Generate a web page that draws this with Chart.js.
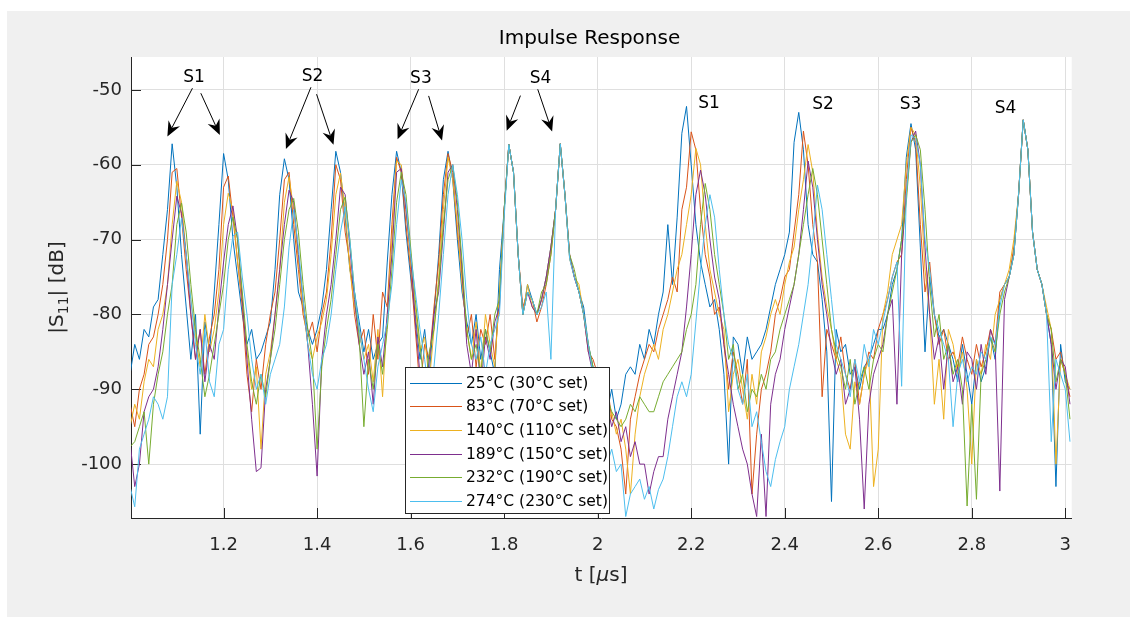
<!DOCTYPE html>
<html>
<head>
<meta charset="utf-8">
<script src="https://cdn.jsdelivr.net/npm/chart.js@4.4.1/dist/chart.umd.min.js"></script>
<style>
  html, body { margin: 0; padding: 0; background: #fff; }
  canvas { display: block; }
</style>
</head>
<body>
<canvas id="impulse" width="1137" height="617"></canvas>
<script>
// sample grid (us)
const tStart = 1.0;
const tStep = 0.01;

const seriesLabels = ["25°C (30°C set)", "83°C (70°C set)", "140°C (110°C set)",
  "189°C (150°C set)", "232°C (190°C set)", "274°C (230°C set)"];
const seriesColors = ["#0072BD", "#D95319", "#EDB120", "#7E2F8E", "#77AC30", "#4DBEEE"];

const xTicks = [1.2, 1.4, 1.6, 1.8, 2.0, 2.2, 2.4, 2.6, 2.8, 3.0];
const yTicks = [-100, -90, -80, -70, -60, -50];

// |S11| in dB, one value per 0.01 us from 1.00 to 3.01
const s25 = [
  -88, -84, -86, -82, -83, -79, -78, -72, -66, -57.2,
  -63, -72, -79, -86, -80, -96, -81, -85, -77, -68,
  -58.5, -62, -70, -75, -80, -84, -82, -86, -85, -83,
  -81, -74, -64, -59.2, -62, -70, -77, -79, -82, -84,
  -82, -79, -74, -66, -58.2, -61, -67, -74, -77, -81,
  -85, -82, -86, -84, -83, -73, -64, -58.2, -61, -69,
  -75, -80, -86, -82, -88, -80, -72, -62, -58.2, -62,
  -70, -77, -81, -84, -80, -86, -82, -85, -88, -74,
  -66, -57.3, -61, -72, -80, -76, -78, -80, -78, -75,
  -71, -66, -57.2, -64, -72.5, -75, -77, -79, -84, -87,
  -88, -90, -93, -90, -94, -92, -88, -87, -88, -84,
  -86, -82, -84, -80, -77, -68, -76, -67, -55.8, -52.2,
  -60, -68, -73, -76, -79, -78, -82, -88, -100, -83,
  -84, -88, -83, -86, -85, -84, -82, -79, -76, -74,
  -72, -69, -57, -53, -58, -68, -72, -73, -78, -85,
  -105, -82, -85, -84, -88, -87, -90, -87, -86, -84,
  -82, -82, -80, -76, -74, -70, -59, -54.5, -58, -71,
  -85, -75, -80, -83, -82, -84, -86, -89, -84, -88,
  -92, -86, -89, -87, -83, -86, -78, -76, -75, -72,
  -64, -54, -58, -69, -74, -76, -80, -84, -103, -84,
  -89, -90
];
const s83 = [
  -92, -95, -90, -88, -84, -83, -80, -76, -70, -61,
  -60.5, -67, -74, -80, -86, -82, -88, -83, -80, -74,
  -63, -61.5, -67, -73, -79, -88, -93, -86, -90, -84,
  -80, -77, -70, -62, -61, -68, -74, -80, -83, -81,
  -85, -80, -77, -70, -60, -62, -69, -73, -80, -84,
  -82, -88, -80, -86, -77, -79, -68, -59, -61, -68,
  -74, -82, -90, -84, -86, -79, -73, -64, -58.5, -61,
  -69, -75, -83, -80, -87, -82, -84, -80, -86, -78,
  -66, -57.3, -61, -72, -79, -77, -78, -81, -79, -76,
  -72, -66, -57.2, -64, -72, -75, -77, -80, -85, -86,
  -88, -91, -89, -94, -95, -98, -104, -94, -91, -88,
  -86, -84, -85, -82, -80, -78, -75, -77, -66, -63,
  -55.6, -58, -66, -72, -75, -80, -79, -84, -90, -85,
  -88, -92, -86, -104, -96, -90, -88, -85, -80, -78,
  -75, -74, -69, -64, -55.5, -60, -68, -73, -91, -82,
  -84, -86, -83, -88, -90, -86, -92, -88, -85, -86,
  -82, -80, -78, -75, -73, -72, -62, -55, -57, -68,
  -77, -73, -80, -84, -82, -86, -85, -87, -83, -86,
  -88, -84, -87, -85, -82, -84, -77, -76, -75, -71,
  -64, -54, -58, -69, -74, -76, -80, -82, -86, -85,
  -88, -91
];
const s140 = [
  -95, -92, -94, -89, -86, -87, -82, -80, -76, -68,
  -62.2, -65, -72, -78, -83, -87, -80, -85, -82, -77,
  -68, -63.8, -66, -73, -78, -85, -90, -87, -98, -88,
  -85, -80, -74, -65, -61.6, -66, -73, -79, -84, -86,
  -83, -81, -78, -72, -64, -61.1, -66, -74, -79, -82,
  -86, -84, -89, -82, -91, -80, -70, -59.5, -60, -66,
  -73, -79, -85, -83, -89, -82, -75, -66, -59, -62,
  -68, -76, -82, -86, -81, -88, -80, -84, -87, -77,
  -66, -57.3, -61, -72, -80, -76, -79, -80, -78, -75,
  -71, -66, -57.2, -64, -72.5, -75, -76, -80, -84, -88,
  -90, -92, -95, -93, -96, -94, -98, -104, -96, -91,
  -88, -86, -84, -86, -82, -80, -77, -74, -72, -68,
  -64, -57.8, -60, -68, -74, -77, -80, -82, -93, -88,
  -86, -90, -94, -88, -92, -85, -83, -80, -78, -80,
  -76, -73, -71, -66, -62, -57.3, -61, -69, -75, -79,
  -82, -86, -88, -96, -98, -89, -92, -88, -86, -103,
  -98, -80, -77, -72, -70, -68, -60, -55, -56, -63,
  -74, -80, -92, -86, -94, -82, -84, -88, -85, -90,
  -100, -86, -88, -84, -86, -80, -78, -76, -74, -70,
  -64, -54, -58, -69, -74, -76, -79, -82, -100, -86,
  -88, -90
];
const s189 = [
  -97, -103, -100, -93, -91, -90, -87, -82, -76, -70,
  -64.2, -66.5, -72, -80, -86, -82, -89, -84, -86, -79,
  -73, -68, -65.5, -70, -78, -86, -94, -101, -100.5, -90,
  -86, -80, -74, -68, -63.4, -65, -72, -78, -84, -92,
  -101.6, -86, -80, -76, -70, -63, -64, -71, -78, -84,
  -88, -85, -92, -83, -87, -80, -72, -61, -60.5, -66,
  -72, -81, -88, -94, -86, -80, -77, -69, -61, -60,
  -66, -74, -84, -88, -82, -90, -83, -86, -81, -79,
  -66, -57.3, -61, -72, -80, -77, -79, -80, -78, -75,
  -71, -66, -57.2, -64, -72, -75, -77, -80, -85, -88,
  -90, -93, -92, -95, -93, -97, -95, -99, -97, -100,
  -100, -104, -101, -99, -99, -94, -91, -88, -85, -79,
  -72, -64, -60.7, -64, -70, -75, -78, -84, -88, -92,
  -95, -98, -100, -104, -107, -96, -107, -92, -88, -86,
  -82, -79, -76, -72, -66, -59.5, -63, -70, -76, -80,
  -85, -88, -86, -92, -90, -87, -94, -106, -92, -88,
  -86, -84, -80, -78, -92, -72, -64, -57, -55.5, -60,
  -71, -80, -86, -83, -90, -84, -89, -87, -92, -85,
  -86, -90, -84, -88, -82, -84, -103.6, -78, -75, -72,
  -64, -54, -58, -69, -74, -76, -80, -84, -90, -86,
  -87, -92
];
const s232 = [
  -97.7, -97, -95, -93, -100, -92, -88, -85, -80, -76,
  -68, -65.1, -69, -76, -82, -86, -91, -88, -84, -80,
  -76, -70, -67, -70, -77, -84, -89, -92, -88, -91,
  -86, -82, -76, -70, -66, -64.5, -69, -76, -82, -86,
  -98, -87, -82, -78, -72, -66, -64.3, -70, -77, -83,
  -95, -86, -90, -84, -88, -82, -74, -65, -61, -64,
  -71, -78, -84, -90, -85, -82, -76, -68, -62, -60,
  -65, -73, -82, -86, -84, -88, -82, -85, -80, -78,
  -66, -57.3, -61, -72, -80, -77, -78, -80, -77, -76,
  -72, -66, -57.2, -64, -72, -74, -77, -80, -84, -87,
  -89, -92, -91, -93, -94, -95, -94, -92, -93, -91,
  -92, -93, -93, -91, -89, -88, -87, -86, -85, -82,
  -80, -76, -68, -62.5, -66, -72, -76, -80, -86, -84,
  -90, -88, -93, -90, -91, -88, -90, -86, -85, -82,
  -80, -78, -76, -72, -68, -64, -60.5, -64, -70, -76,
  -82, -85, -87, -90, -86, -92, -89, -87, -90, -86,
  -84, -85, -80, -77, -74, -70, -65, -57, -56, -58,
  -66, -76, -83, -80, -86, -84, -88, -86, -90, -105.6,
  -92, -104.7, -88, -86, -83, -85, -80, -77, -75, -72,
  -64, -54, -58, -69, -74, -76, -80, -82, -89, -86,
  -88, -94
];
const s274 = [
  -103, -105.7, -98, -96, -94, -91, -92, -94, -91, -76,
  -72, -67.1, -72, -78, -84, -88, -82, -89, -91, -84,
  -82, -74, -69.5, -69, -75, -80, -86, -90, -88, -92,
  -88, -86, -84, -79, -71, -66, -71, -78, -84, -88,
  -90, -86, -84, -80, -74, -69, -65.6, -70, -77, -82,
  -86, -90, -93, -87, -84, -81, -76, -68, -62, -65,
  -72, -77, -82, -86, -91, -87, -80, -72, -64, -60,
  -64, -70, -78, -84, -86, -83, -88, -84, -82, -80,
  -67, -57.3, -61, -72, -80, -77, -78, -80, -79, -77,
  -86, -66, -57.2, -64, -72.5, -75, -77, -80, -84, -88,
  -92, -96, -100, -98, -101, -100, -107, -104, -103, -102,
  -104.7, -103, -106, -103.4, -102, -99, -95, -91, -89, -91,
  -88, -81, -74, -68, -64, -67, -74, -80, -84, -86,
  -90, -92, -88, -95, -93, -97, -101, -103, -99.4, -97,
  -95, -90, -87, -84, -80, -76, -70, -62.7, -66, -72,
  -78, -84, -86, -88, -91, -86, -89, -84, -87, -82,
  -84, -81, -78, -75, -73, -89.6, -64, -56, -56.5, -60,
  -70, -74, -80, -82, -84, -86, -95, -88, -86, -89,
  -87, -88, -85, -86, -83, -84, -79, -76, -75, -72,
  -64, -54, -58, -69, -74, -76, -80, -97, -86, -88,
  -90, -97
];
const allSeries = [s25, s83, s140, s189, s232, s274];

// annotations, in data units (t, dB)
const peakLabels = ["S1", "S2", "S3", "S4", "S1", "S2", "S3", "S4"];
const peakLabelT = [1.137, 1.390, 1.622, 1.878, 2.238, 2.482, 2.669, 2.872];
const peakLabelDb = [-48.3, -48.2, -48.5, -48.5, -51.8, -51.9, -51.9, -52.5];
const arrowFromT = [1.1334, 1.1513, 1.3868, 1.3988, 1.6171, 1.6385, 1.8348, 1.8718];
const arrowFromDb = [-49.77, -50.44, -49.64, -50.57, -49.91, -50.8, -50.76, -49.91];
const arrowToT = [1.0798, 1.192, 1.3333, 1.4351, 1.5721, 1.6672, 1.8054, 1.9026];
const arrowToDb = [-56.23, -56.01, -57.88, -57.34, -56.58, -56.77, -55.47, -55.57];

const times = s25.map((_, i) => +(tStart + i * tStep).toFixed(2));

const FONT = "'DejaVu Sans', sans-serif";
Chart.defaults.font.family = FONT;
Chart.defaults.color = "#262626";

const panelPlugin = {
  id: "panel",
  beforeDraw(chart) {
    const { ctx, chartArea: a } = chart;
    ctx.save();
    ctx.fillStyle = "#ffffff";
    ctx.fillRect(0, 0, chart.width, chart.height);
    ctx.fillStyle = "#f0f0f0";
    ctx.fillRect(7, 11, 1123, chart.height - 11);
    ctx.fillStyle = "#ffffff";
    ctx.fillRect(a.left, a.top, a.right - a.left, a.bottom - a.top);
    ctx.restore();
  },
};

// matlab style ticks pointing into the axes
const tickPlugin = {
  id: "inTicks",
  beforeDatasetsDraw(chart) {
    const { ctx, chartArea: a, scales } = chart;
    ctx.save();
    ctx.strokeStyle = "#262626";
    ctx.lineWidth = 1;
    ctx.beginPath();
    xTicks.forEach((v) => {
      const px = Math.round(scales.x.getPixelForValue(v)) + 0.5;
      ctx.moveTo(px, a.bottom);
      ctx.lineTo(px, a.bottom - 10);
    });
    yTicks.forEach((v) => {
      const py = Math.round(scales.y.getPixelForValue(v)) + 0.5;
      ctx.moveTo(a.left, py);
      ctx.lineTo(a.left + 10, py);
    });
    ctx.stroke();
    ctx.restore();
  },
};

function drawArrow(ctx, x0, y0, x1, y1) {
  const ang = Math.atan2(y1 - y0, x1 - x0);
  const len = 15, half = 6.5, notch = 10;
  ctx.beginPath();
  ctx.moveTo(x0, y0);
  ctx.lineTo(x1 - Math.cos(ang) * notch, y1 - Math.sin(ang) * notch);
  ctx.stroke();
  ctx.save();
  ctx.translate(x1, y1);
  ctx.rotate(ang);
  ctx.beginPath();
  ctx.moveTo(0, 0);
  ctx.lineTo(-len, -half);
  ctx.lineTo(-notch, 0);
  ctx.lineTo(-len, half);
  ctx.closePath();
  ctx.fill();
  ctx.restore();
}

const annotationPlugin = {
  id: "peaks",
  afterDatasetsDraw(chart) {
    const { ctx, scales } = chart;
    ctx.save();
    ctx.fillStyle = "#000";
    ctx.strokeStyle = "#000";
    ctx.lineWidth = 1;
    ctx.font = "17px " + FONT;
    ctx.textAlign = "center";
    ctx.textBaseline = "middle";
    peakLabels.forEach((txt, i) => {
      ctx.fillText(txt, scales.x.getPixelForValue(peakLabelT[i]), scales.y.getPixelForValue(peakLabelDb[i]));
    });
    arrowFromT.forEach((t, i) => {
      drawArrow(ctx,
        scales.x.getPixelForValue(t), scales.y.getPixelForValue(arrowFromDb[i]),
        scales.x.getPixelForValue(arrowToT[i]), scales.y.getPixelForValue(arrowToDb[i]));
    });
    ctx.restore();
  },
};

const legendPlugin = {
  id: "boxLegend",
  afterDraw(chart) {
    const { ctx } = chart;
    const left = 405.5, top = 367.5, w = 204, h = 146;
    ctx.save();
    ctx.fillStyle = "#ffffff";
    ctx.fillRect(left, top, w, h);
    ctx.strokeStyle = "#262626";
    ctx.lineWidth = 1;
    ctx.strokeRect(left, top, w, h);
    ctx.font = "15.5px " + FONT;
    ctx.textAlign = "left";
    ctx.textBaseline = "middle";
    seriesLabels.forEach((lab, i) => {
      const yy = Math.round(382.7 + i * 23.6) + 0.5;
      ctx.strokeStyle = seriesColors[i];
      ctx.beginPath();
      ctx.moveTo(410, yy);
      ctx.lineTo(462, yy);
      ctx.stroke();
      ctx.fillStyle = "#000";
      ctx.fillText(lab, 466, yy);
    });
    ctx.restore();
  },
};

const titlePlugin = {
  id: "titles",
  afterDraw(chart) {
    const { ctx } = chart;
    ctx.save();
    ctx.fillStyle = "#000";
    ctx.textBaseline = "alphabetic";
    ctx.textAlign = "center";
    ctx.font = "20px " + FONT;
    ctx.fillText("Impulse Response", 589.5, 44);

    // x label: t [mu s] with italic mu
    ctx.fillStyle = "#262626";
    ctx.textAlign = "left";
    const normal = "20px " + FONT, ital = "italic 20px " + FONT;
    const parts = [["t [", normal], ["\u03bc", ital], ["s]", normal]];
    let total = 0;
    parts.forEach(([s, f]) => { ctx.font = f; total += ctx.measureText(s).width; });
    let x0 = 601 - total / 2;
    parts.forEach(([s, f]) => { ctx.font = f; ctx.fillText(s, x0, 581); x0 += ctx.measureText(s).width; });

    // y label: |S11| [dB] with subscript
    ctx.translate(63, 287.5);
    ctx.rotate(-Math.PI / 2);
    const small = "14px " + FONT;
    const yparts = [["|S", normal, 0], ["11", small, 5], ["| [dB]", normal, 0]];
    total = 0;
    yparts.forEach(([s, f]) => { ctx.font = f; total += ctx.measureText(s).width; });
    x0 = -total / 2;
    yparts.forEach(([s, f, dy]) => { ctx.font = f; ctx.fillText(s, x0, dy); x0 += ctx.measureText(s).width; });
    ctx.restore();
  },
};

new Chart(document.getElementById("impulse"), {
  type: "line",
  data: {
    datasets: allSeries.map((vals, k) => ({
      label: seriesLabels[k],
      data: vals.map((v, i) => ({ x: times[i], y: v })),
      borderColor: seriesColors[k],
      backgroundColor: seriesColors[k],
      borderWidth: 1,
      pointRadius: 0,
      tension: 0,
      order: allSeries.length - k,
    })),
  },
  options: {
    responsive: false,
    animation: false,
    devicePixelRatio: 1,
    events: [],
    layout: { padding: { top: 57, right: 65.3, bottom: 0, left: 0 } },
    plugins: { legend: { display: false }, tooltip: { enabled: false }, title: { display: false } },
    scales: {
      x: {
        type: "linear",
        min: 1.002,
        max: 3.0137,
        afterBuildTicks: (axis) => { axis.ticks = xTicks.map((v) => ({ value: v })); },
        afterFit: (axis) => { axis.height = 99; },
        grid: { color: "#dfdfdf", drawTicks: false },
        border: { color: "#262626", width: 1 },
        ticks: {
          padding: 17,
          maxRotation: 0,
          font: { size: 18 },
          color: "#262626",
          callback: (v) => String(Number(Number(v).toFixed(1))),
        },
      },
      y: {
        type: "linear",
        min: -107.2,
        max: -45.6,
        afterBuildTicks: (axis) => { axis.ticks = yTicks.map((v) => ({ value: v })); },
        afterFit: (axis) => { axis.width = 131; },
        grid: { color: "#dfdfdf", drawTicks: false },
        border: { color: "#262626", width: 1 },
        ticks: { padding: 9, font: { size: 18 }, color: "#262626" },
      },
    },
  },
  plugins: [panelPlugin, tickPlugin, annotationPlugin, legendPlugin, titlePlugin],
});
</script>
</body>
</html>
